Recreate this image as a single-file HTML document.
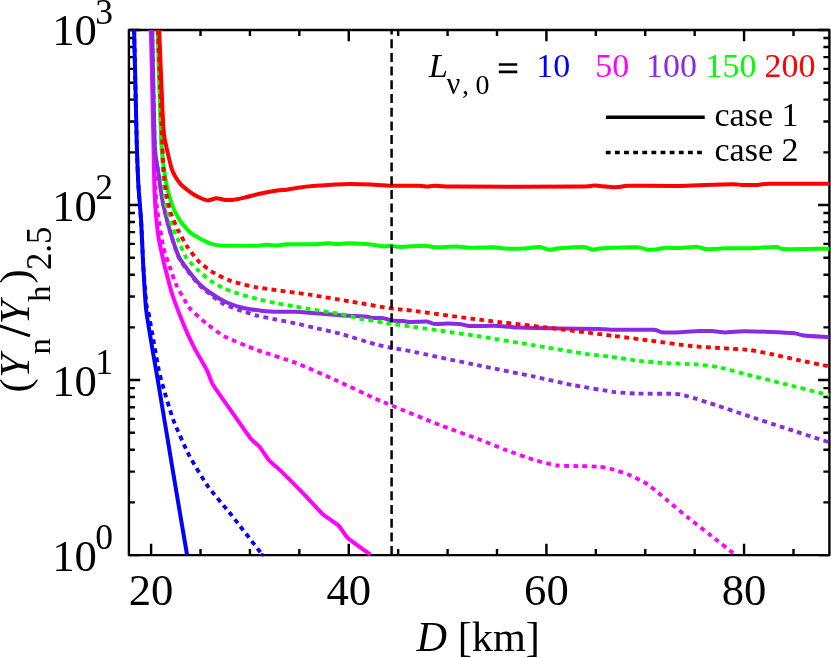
<!DOCTYPE html>
<html><head><meta charset="utf-8"><title>plot</title>
<style>
html,body{margin:0;padding:0;background:#fff;}
body{width:831px;height:658px;overflow:hidden;}
svg{display:block;opacity:0.999;will-change:transform;}
text{font-family:"Liberation Serif",serif;fill:#000;}
.i{font-style:italic;}
</style></head><body>
<svg width="831" height="658" viewBox="0 0 831 658">
<rect x="0" y="0" width="831" height="658" fill="#fff"/>
<defs><clipPath id="c"><rect x="128.9" y="30.0" width="701.1" height="526.5"/></clipPath></defs>

<rect x="128.9" y="30.0" width="700.5" height="525.1" fill="none" stroke="#000" stroke-width="2.4" stroke-linejoin="round"/>
<path d="M151.10 555.10v-11.30 M151.10 30.00v11.30 M200.51 555.10v-6.00 M200.51 30.00v6.00 M249.93 555.10v-6.00 M249.93 30.00v6.00 M299.34 555.10v-6.00 M299.34 30.00v6.00 M348.76 555.10v-11.30 M348.76 30.00v11.30 M398.17 555.10v-6.00 M398.17 30.00v6.00 M447.59 555.10v-6.00 M447.59 30.00v6.00 M497.00 555.10v-6.00 M497.00 30.00v6.00 M546.42 555.10v-11.30 M546.42 30.00v11.30 M595.83 555.10v-6.00 M595.83 30.00v6.00 M645.25 555.10v-6.00 M645.25 30.00v6.00 M694.66 555.10v-6.00 M694.66 30.00v6.00 M744.08 555.10v-11.30 M744.08 30.00v11.30 M793.50 555.10v-6.00 M793.50 30.00v6.00 M128.90 555.10h11.30 M829.40 555.10h-11.30 M128.90 502.41h6.00 M829.40 502.41h-6.00 M128.90 471.59h6.00 M829.40 471.59h-6.00 M128.90 449.72h6.00 M829.40 449.72h-6.00 M128.90 432.76h6.00 M829.40 432.76h-6.00 M128.90 418.90h6.00 M829.40 418.90h-6.00 M128.90 407.18h6.00 M829.40 407.18h-6.00 M128.90 397.03h6.00 M829.40 397.03h-6.00 M128.90 388.08h6.00 M829.40 388.08h-6.00 M128.90 380.07h11.30 M829.40 380.07h-11.30 M128.90 327.38h6.00 M829.40 327.38h-6.00 M128.90 296.55h6.00 M829.40 296.55h-6.00 M128.90 274.69h6.00 M829.40 274.69h-6.00 M128.90 257.72h6.00 M829.40 257.72h-6.00 M128.90 243.86h6.00 M829.40 243.86h-6.00 M128.90 232.15h6.00 M829.40 232.15h-6.00 M128.90 222.00h6.00 M829.40 222.00h-6.00 M128.90 213.04h6.00 M829.40 213.04h-6.00 M128.90 205.03h11.30 M829.40 205.03h-11.30 M128.90 152.34h6.00 M829.40 152.34h-6.00 M128.90 121.52h6.00 M829.40 121.52h-6.00 M128.90 99.65h6.00 M829.40 99.65h-6.00 M128.90 82.69h6.00 M829.40 82.69h-6.00 M128.90 68.83h6.00 M829.40 68.83h-6.00 M128.90 57.11h6.00 M829.40 57.11h-6.00 M128.90 46.96h6.00 M829.40 46.96h-6.00 M128.90 38.01h6.00 M829.40 38.01h-6.00 M128.90 30.00h11.30 M829.40 30.00h-11.30" stroke="#000" stroke-width="2.4" fill="none"/>
<g clip-path="url(#c)" fill="none" stroke-linejoin="round" stroke-width="4.0">
<path stroke="#0000ff" d="M134.1 30.0C134.4 41.5 136.4 129.6 136.8 145.0C137.2 160.4 137.9 175.9 138.3 183.6C138.7 191.3 140.7 214.1 141.2 222.2C141.7 230.3 142.7 256.3 143.2 265.0C143.7 273.7 145.2 301.3 146.1 309.4C147.0 317.5 150.7 338.5 151.9 346.1C153.2 353.7 156.5 372.3 158.6 385.0C160.7 397.7 170.4 455.8 173.2 472.8C176.0 489.8 185.6 546.5 187.0 554.7"/>
<path stroke="#0000ff" stroke-width="3.85" stroke-dasharray="4.8 4.33" d="M134.1 30.0C134.4 41.5 136.4 129.6 136.8 145.0C137.2 160.4 137.9 175.9 138.3 183.6C138.7 191.3 140.7 214.1 141.2 222.2C141.7 230.3 142.7 256.7 143.2 265.0C143.7 273.3 145.9 300.0 146.5 305.0C147.1 310.0 148.3 311.3 149.0 315.0C149.7 318.7 152.8 336.8 153.8 342.2C154.8 347.6 157.7 364.9 158.6 369.2C159.5 373.5 161.1 380.0 162.6 385.0C164.1 390.0 170.5 412.6 173.2 419.6C175.9 426.7 185.7 448.9 189.2 455.5C192.7 462.1 203.6 480.1 207.8 486.1C212.1 492.1 226.4 508.7 231.7 515.4C237.0 522.1 257.9 549.1 261.0 553.1C264.1 557.1 262.4 554.8 262.5 555.0"/>
<path stroke="#ff00ff" d="M150.9 30.0C151.2 41.5 153.2 129.6 153.5 145.0C153.8 160.4 154.1 177.2 154.3 183.6C154.5 190.0 155.1 203.3 155.5 208.7C155.9 214.1 157.7 232.1 158.6 237.7C159.5 243.3 163.1 259.4 164.4 265.0C165.8 270.6 170.2 288.0 172.1 294.0C174.0 300.0 181.6 319.6 183.7 324.8C185.8 330.0 191.1 341.6 193.4 346.1C195.7 350.6 204.9 366.3 206.9 370.2C208.9 374.1 210.6 380.9 213.1 385.0C215.6 389.1 228.0 406.3 231.7 411.6C235.4 416.9 247.6 434.7 250.4 438.2C253.2 441.7 257.8 444.8 259.7 447.0C261.6 449.2 267.0 458.0 269.0 460.3C271.0 462.6 276.5 466.7 280.0 470.1C283.5 473.5 299.6 489.7 303.9 494.1C308.2 498.5 319.1 510.9 322.6 514.0C326.1 517.1 336.0 523.1 338.5 525.5C341.0 527.9 344.6 535.1 347.8 538.0C351.0 540.9 368.1 553.0 370.4 554.7"/>
<path stroke="#ff00ff" stroke-width="3.85" stroke-dasharray="4.8 4.33" d="M151.5 30.0C151.8 42.0 154.1 134.0 154.5 150.0C154.9 166.0 155.2 183.7 155.5 190.0C155.8 196.3 156.8 206.9 157.6 212.6C158.4 218.3 162.2 241.9 163.4 247.3C164.6 252.7 168.5 263.2 169.8 266.9C171.1 270.6 174.4 280.8 176.0 284.3C177.6 287.8 184.2 299.3 185.6 301.7C187.0 304.1 188.0 306.5 190.0 308.6C192.0 310.8 202.5 320.4 206.0 323.2C209.5 326.0 219.5 333.8 224.6 336.5C229.7 339.2 249.3 347.1 256.5 349.8C263.7 352.5 288.4 360.0 296.4 363.1C304.4 366.2 328.3 376.8 336.3 380.4C344.3 384.0 370.6 396.5 376.2 399.0C381.8 401.5 385.9 403.1 392.2 405.7C398.5 408.3 430.8 421.5 439.6 424.9C448.4 428.3 473.3 437.2 480.0 439.7C486.7 442.2 501.3 448.3 506.6 450.3C511.9 452.3 528.2 458.1 533.2 459.6C538.2 461.1 552.4 464.9 557.1 465.5C561.8 466.1 575.8 466.0 580.0 466.1C584.2 466.2 596.2 466.5 599.3 466.8C602.4 467.1 608.4 468.2 611.3 469.0C614.2 469.8 624.5 473.0 628.1 474.5C631.7 476.0 643.5 481.7 647.4 484.2C651.2 486.7 662.5 496.4 666.6 499.8C670.7 503.2 684.0 514.3 688.3 517.8C692.6 521.3 705.3 531.0 710.0 534.7C714.7 538.4 732.7 552.7 735.2 554.7"/>
<path stroke="#8a2be2" d="M152.2 30.0C152.4 41.5 154.1 130.6 154.7 145.0C155.3 159.4 157.8 168.2 158.6 174.0C159.4 179.8 161.7 197.1 162.9 202.9C164.1 208.7 168.8 227.1 170.2 231.9C171.6 236.7 175.5 248.3 176.5 251.0C177.5 253.7 178.7 256.8 180.0 258.9C181.3 261.0 187.7 269.8 189.6 272.3C191.5 274.8 197.0 281.7 199.3 283.9C201.6 286.1 210.1 292.7 212.8 294.5C215.5 296.3 223.1 300.8 226.2 302.2C229.3 303.6 239.9 307.1 243.6 308.0C247.3 308.9 259.2 310.5 262.9 310.9C266.6 311.3 276.9 311.7 280.2 311.8C283.5 311.9 292.1 311.7 295.6 311.8C299.1 311.9 310.5 312.9 314.9 313.2C319.3 313.5 335.0 314.9 340.0 315.2C345.0 315.5 361.7 316.3 365.0 316.6C368.3 316.9 371.1 318.0 372.8 318.1C374.5 318.2 380.5 317.8 382.4 318.0C384.3 318.2 389.9 320.2 392.0 320.5C394.1 320.8 401.9 320.9 403.6 321.0C405.3 321.1 407.1 321.9 409.4 322.0C411.7 322.1 424.2 321.4 426.7 321.6C429.2 321.8 432.3 323.7 434.4 323.9C436.5 324.1 445.4 323.5 447.9 323.5C450.4 323.5 457.4 323.7 459.5 323.9C461.6 324.1 465.2 325.7 469.1 325.9C473.0 326.1 493.5 325.7 498.6 325.9C503.7 326.1 513.9 327.4 520.0 327.6C526.1 327.9 551.8 328.3 559.8 328.4C567.8 328.5 594.6 328.8 599.7 328.9C604.8 329.0 605.0 329.6 610.4 329.7C615.8 329.8 648.5 329.6 653.6 329.8C658.7 330.1 658.8 332.0 661.5 332.2C664.2 332.4 676.5 332.3 680.2 332.2C683.9 332.1 695.6 331.2 698.8 331.1C702.0 331.0 709.4 331.0 712.1 331.1C714.8 331.2 722.7 332.5 725.4 332.5C728.1 332.5 734.2 331.5 738.7 331.4C743.2 331.3 765.0 331.7 770.6 331.9C776.2 332.1 791.3 332.9 794.6 333.3C797.9 333.7 800.4 335.0 803.9 335.4C807.4 335.8 826.6 337.0 829.1 337.2"/>
<path stroke="#8a2be2" stroke-width="3.85" stroke-dasharray="4.8 4.33" d="M152.2 30.0C152.4 41.5 154.1 130.6 154.7 145.0C155.3 159.4 157.8 168.2 158.6 174.0C159.4 179.8 161.7 197.1 162.9 202.9C164.1 208.7 168.8 227.0 170.2 231.9C171.6 236.8 175.5 248.7 176.5 251.5C177.5 254.3 178.7 257.8 180.0 260.0C181.3 262.2 187.7 271.0 189.6 273.5C191.5 276.0 197.0 282.9 199.3 285.2C201.6 287.5 210.3 294.5 212.8 296.4C215.3 298.3 221.4 302.9 224.3 304.3C227.2 305.8 238.4 309.8 241.7 310.9C245.0 312.0 253.6 314.8 257.1 315.7C260.6 316.6 272.4 318.7 276.3 319.5C280.2 320.3 291.7 322.6 295.6 323.4C299.5 324.2 310.5 326.8 314.9 327.8C319.3 328.8 333.9 331.9 340.0 333.6C346.1 335.3 371.0 343.1 376.2 344.5C381.4 345.9 388.8 347.3 392.2 348.0C395.6 348.7 401.2 349.3 410.0 351.1C418.8 352.9 467.7 363.2 480.0 365.7C492.3 368.2 523.9 374.5 533.2 376.4C542.5 378.3 565.1 383.6 573.1 385.1C581.1 386.6 606.5 390.9 613.0 391.8C619.5 392.7 631.4 393.4 637.6 393.6C643.8 393.8 669.8 393.6 674.8 393.9C679.8 394.2 683.8 395.1 688.1 396.3C692.4 397.5 711.3 403.6 717.4 405.6C723.5 407.6 742.6 414.1 749.3 416.3C755.9 418.5 775.9 425.1 783.9 427.7C791.9 430.3 824.6 440.8 829.1 442.3"/>
<path stroke="#00ff00" d="M157.6 30.0C158.0 41.5 160.6 129.6 161.5 145.0C162.4 160.4 165.2 177.6 166.3 183.6C167.4 189.6 170.8 201.1 172.1 204.8C173.4 208.5 178.0 217.5 179.8 220.3C181.6 223.1 188.5 231.0 190.5 232.8C192.5 234.6 198.3 237.5 200.0 238.4C201.7 239.3 206.1 241.6 207.7 242.3C209.3 243.0 214.7 244.8 216.4 245.1C218.1 245.4 220.9 245.7 225.0 245.8C229.1 245.9 253.6 245.9 257.8 245.8C262.0 245.7 265.5 244.7 267.4 244.7C269.3 244.7 275.2 245.6 277.1 245.6C279.0 245.6 283.2 244.4 286.7 244.3C290.2 244.2 307.6 244.4 311.8 244.3C316.0 244.2 326.6 243.3 329.1 243.3C331.6 243.3 334.9 244.1 336.8 244.1C338.7 244.1 346.1 243.3 348.4 243.3C350.7 243.3 357.7 243.6 360.0 243.7C362.3 243.8 368.7 244.3 371.1 244.6C373.5 244.9 382.4 246.4 384.4 246.5C386.4 246.6 389.4 245.6 391.0 245.7C392.6 245.8 397.1 247.0 400.4 247.0C403.7 247.0 420.9 245.7 424.3 245.7C427.8 245.7 431.7 247.2 434.9 247.3C438.1 247.4 452.5 246.4 456.2 246.5C459.9 246.6 468.5 247.7 472.2 247.8C475.9 247.9 489.9 247.2 493.3 247.3C496.7 247.4 503.7 248.5 506.6 248.6C509.5 248.7 519.3 248.8 522.6 248.6C525.9 248.4 537.2 246.9 539.9 247.0C542.6 247.1 547.2 249.6 549.2 249.7C551.2 249.8 556.3 248.6 559.8 248.3C563.3 248.0 580.5 246.9 583.8 247.0C587.1 247.1 591.2 249.6 593.1 249.7C595.0 249.8 598.0 248.5 602.4 248.3C606.8 248.1 632.6 247.2 637.0 247.3C641.4 247.4 644.4 249.2 646.3 249.4C648.2 249.6 653.6 249.6 655.6 249.4C657.6 249.2 663.8 247.9 666.2 247.8C668.6 247.7 676.3 248.1 679.3 248.0C682.3 247.9 694.0 246.7 696.6 246.8C699.2 246.9 704.1 248.9 705.8 249.1C707.5 249.3 711.9 249.2 713.9 249.1C715.9 249.0 722.0 248.3 725.5 248.2C729.0 248.1 743.4 248.3 748.5 248.2C753.6 248.1 772.7 247.0 776.3 247.1C779.9 247.2 779.0 248.9 784.3 249.1C789.6 249.3 824.9 248.7 829.4 248.7"/>
<path stroke="#00ff00" stroke-width="3.85" stroke-dasharray="4.8 4.33" d="M158.0 30.0C158.3 41.5 160.8 128.3 161.5 145.0C162.2 161.7 163.9 189.4 164.8 197.1C165.7 204.8 169.3 217.9 170.6 222.2C171.9 226.4 176.4 236.1 177.9 239.6C179.4 243.1 184.4 254.5 185.8 256.9C187.2 259.3 190.2 262.2 191.6 263.7C192.9 265.1 197.4 269.7 199.3 271.4C201.2 273.1 208.3 279.3 210.8 281.0C213.3 282.7 221.6 287.4 224.3 288.7C227.0 289.9 234.5 292.5 237.8 293.5C241.1 294.5 253.3 297.9 257.1 298.9C261.0 299.9 272.4 302.4 276.3 303.2C280.2 304.0 291.7 305.9 295.6 306.6C299.5 307.3 310.5 309.2 314.9 309.9C319.3 310.6 335.2 312.9 340.0 313.8C344.8 314.7 357.7 318.2 362.9 319.2C368.1 320.2 387.5 323.3 392.2 324.0C396.9 324.7 401.2 325.1 410.0 326.4C418.8 327.6 467.7 334.6 480.0 336.5C492.3 338.4 522.6 343.4 533.2 345.2C543.8 346.9 578.6 352.9 586.4 354.0C594.2 355.1 605.9 356.0 611.0 356.7C616.1 357.4 632.3 360.1 637.6 360.7C642.9 361.3 658.4 362.6 664.2 363.0C670.1 363.4 690.8 364.0 696.1 364.4C701.4 364.8 712.6 366.1 717.4 367.0C722.2 367.9 737.4 372.0 744.0 373.7C750.6 375.4 775.4 381.7 783.9 383.8C792.4 385.9 824.6 394.1 829.1 395.2"/>
<path stroke="#ff0000" d="M159.2 30.0C159.5 38.0 162.0 99.3 162.5 110.0C163.0 120.7 163.4 130.7 164.3 136.6C165.2 142.5 170.3 164.6 171.9 169.3C173.5 174.0 178.5 181.5 180.3 183.8C182.1 186.1 188.3 190.7 190.2 192.1C192.1 193.5 197.6 196.7 199.3 197.5C201.1 198.3 206.0 200.3 207.7 200.4C209.4 200.5 214.7 198.4 216.4 198.3C218.1 198.2 223.4 199.7 225.0 199.9C226.6 200.1 230.9 200.1 232.8 199.9C234.7 199.7 241.6 198.2 244.3 197.6C247.0 197.0 256.4 194.4 259.7 193.7C263.0 193.0 274.4 191.0 277.1 190.6C279.8 190.2 284.8 190.0 286.7 189.7C288.6 189.4 293.4 188.3 296.3 187.9C299.2 187.5 311.7 186.1 315.6 185.8C319.5 185.5 331.4 184.7 334.9 184.5C338.4 184.3 346.7 183.9 350.3 183.9C353.9 183.9 367.0 184.3 371.1 184.5C375.2 184.7 386.2 185.7 391.0 185.8C395.8 185.9 415.4 185.7 419.0 185.8C422.6 185.9 425.4 186.6 427.0 186.6C428.6 186.6 432.1 185.8 435.0 185.8C437.9 185.8 441.6 186.5 456.2 186.6C470.8 186.7 567.2 186.7 581.0 186.6C594.8 186.5 591.5 185.4 594.4 185.5C597.3 185.6 608.0 186.9 610.4 187.1C612.8 187.3 616.4 187.2 618.3 187.1C620.2 187.0 622.9 185.9 629.0 185.8C635.1 185.7 669.0 186.1 679.3 185.9C689.6 185.7 726.2 184.3 732.4 184.2C738.6 184.1 739.1 184.8 741.6 184.9C744.1 185.0 755.0 185.0 757.8 184.9C760.6 184.8 762.1 183.9 769.3 183.8C776.5 183.7 823.4 183.8 829.4 183.8"/>
<path stroke="#ff0000" stroke-width="3.85" stroke-dasharray="4.8 4.33" d="M158.0 30.0C158.4 41.9 161.9 134.5 162.5 148.9C163.1 163.3 163.6 169.6 164.0 174.0C164.4 178.4 165.6 189.4 166.3 193.3C167.0 197.2 169.4 208.9 170.6 212.6C171.8 216.3 176.2 226.4 177.9 229.9C179.6 233.4 185.5 244.1 187.6 247.3C189.7 250.5 196.8 259.4 199.2 261.8C201.6 264.2 208.2 269.4 211.3 271.3C214.4 273.2 225.4 279.0 229.9 280.6C234.4 282.2 248.5 285.9 256.5 287.3C264.5 288.7 300.4 293.3 309.7 294.7C319.0 296.1 341.4 300.0 349.6 301.4C357.9 302.8 386.2 307.7 392.2 308.6C398.2 309.5 400.9 309.2 410.0 310.4C419.1 311.5 469.1 318.4 482.7 320.1C496.3 321.8 533.5 325.9 546.5 327.5C559.5 329.1 602.6 334.5 613.0 335.8C623.4 337.1 643.1 339.7 650.9 340.7C658.7 341.7 683.6 345.2 690.8 346.0C698.0 346.8 716.9 347.8 722.7 348.2C728.6 348.6 744.5 349.4 749.3 350.0C754.1 350.6 765.8 353.0 770.6 354.0C775.4 355.0 791.4 358.6 797.2 359.9C803.1 361.1 825.9 365.8 829.1 366.5"/>
</g>
<line x1="391.6" y1="555.1" x2="391.6" y2="30.0" stroke="#000" stroke-width="2.5" stroke-dasharray="9 4.7"/>
<text x="151.1" y="605.2" font-size="44.7" text-anchor="middle">20</text>
<text x="348.8" y="605.2" font-size="44.7" text-anchor="middle">40</text>
<text x="546.4" y="605.2" font-size="44.7" text-anchor="middle">60</text>
<text x="744.1" y="605.2" font-size="44.7" text-anchor="middle">80</text>
<text x="52.2" y="570.7" font-size="44.7">10</text><text x="95.3" y="549.2" font-size="35.5">0</text>
<text x="52.2" y="395.7" font-size="44.7">10</text><text x="95.3" y="374.2" font-size="35.5">1</text>
<text x="52.2" y="220.6" font-size="44.7">10</text><text x="95.3" y="199.1" font-size="35.5">2</text>
<text x="52.2" y="45.0" font-size="44.7">10</text><text x="95.3" y="23.5" font-size="35.5">3</text>
<text x="416.6" y="650.6" font-size="42.3"><tspan class="i">D</tspan> [km]</text>
<g transform="translate(29,392) rotate(-90)"><text x="-0.6" y="0" font-size="42.3">(</text><text x="14.3" y="0" font-size="42.3" class="i">Y</text><text x="37.4" y="21" font-size="32.5">n</text><text x="67.8" y="0" font-size="42.3" class="i">Y</text><text x="90.3" y="21" font-size="32.5">h</text><text x="108.5" y="0" font-size="42.3">)</text><text x="121.9" y="22.3" font-size="34.8">2.5</text></g><line x1="30" y1="335.9" x2="-1" y2="325.7" stroke="#000" stroke-width="3"/>
<text x="428.8" y="76.7" font-size="34.6" class="i">L</text>
<text x="446.5" y="94" font-size="30.5">ν</text>
<text x="462" y="94.3" font-size="28">,</text>
<text x="475.6" y="94.3" font-size="28">0</text>
<path d="M498.8 64.5H517.3M498.8 71.8H517.3" stroke="#000" stroke-width="2.7" fill="none"/>
<text x="536.2" y="76.7" font-size="34" style="fill:#0000ff">10</text>
<text x="595.2" y="76.7" font-size="34" style="fill:#ff00ff">50</text>
<text x="646" y="76.7" font-size="34" style="fill:#8a2be2">100</text>
<text x="705.6" y="76.7" font-size="34" style="fill:#00ff00">150</text>
<text x="764.5" y="76.7" font-size="34" style="fill:#ff0000">200</text>
<line x1="605.9" y1="117.3" x2="704.7" y2="117.3" stroke="#000" stroke-width="3.4"/>
<line x1="605.8" y1="152.5" x2="704.7" y2="152.5" stroke="#000" stroke-width="3.3" stroke-dasharray="4.8 4.33"/>
<text x="714.5" y="126.2" font-size="34">case 1</text>
<text x="714.5" y="160.5" font-size="34">case 2</text>
</svg></body></html>
